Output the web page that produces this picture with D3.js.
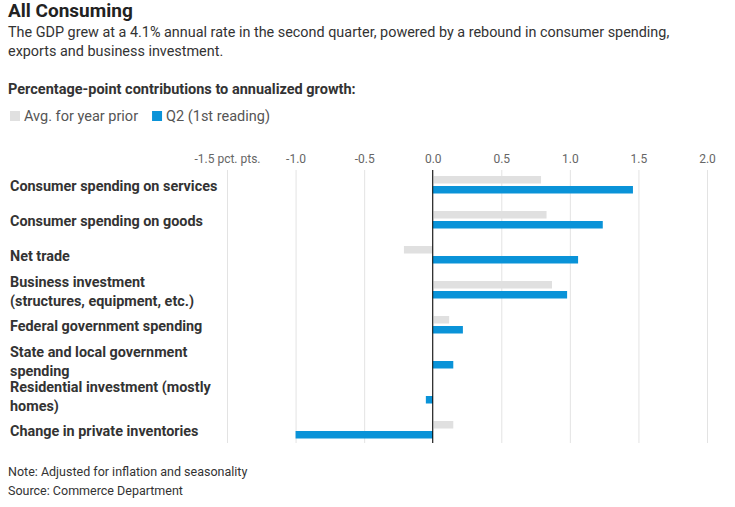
<!DOCTYPE html>
<html><head><meta charset="utf-8">
<script src="https://cdn.jsdelivr.net/npm/d3@7/dist/d3.min.js"></script>
<style>
body{margin:0;background:#fff;}
text{font-family:"Roboto",sans-serif;}
</style></head>
<body><svg id="c" width="735" height="507"></svg>
<script>
const categories = [
  ["Consumer spending on services"],
  ["Consumer spending on goods"],
  ["Net trade"],
  ["Business investment","(structures, equipment, etc.)"],
  ["Federal government spending"],
  ["State and local government","spending"],
  ["Residential investment (mostly","homes)"],
  ["Change in private inventories"]
];
const avgYearPrior = [0.79, 0.83, -0.21, 0.87, 0.12, 0, 0, 0.15];
const q2FirstReading = [1.46, 1.24, 1.06, 0.98, 0.22, 0.15, -0.05, -1.0];
const tickValues = [-1.5, -1.0, -0.5, 0.0, 0.5, 1.0, 1.5, 2.0];
const tickLabels = ["-1.5 pct. pts.", "-1.0", "-0.5", "0.0", "0.5", "1.0", "1.5", "2.0"];
const seriesNames = ["Avg. for year prior", "Q2 (1st reading)"];
const colors = ["#e0e0e0", "#0a93d8"];

const svg = d3.select("#c");
svg.append("text").attr("x",8).attr("y",17).attr("font-size",19).attr("font-weight","bold").attr("fill","#222").text("All Consuming");
svg.append("text").attr("x",8).attr("y",37).attr("font-size",14.4).attr("fill","#333")
  .text("The GDP grew at a 4.1% annual rate in the second quarter, powered by a rebound in consumer spending,");
svg.append("text").attr("x",8).attr("y",56).attr("font-size",14.4).attr("fill","#333")
  .text("exports and business investment.");
svg.append("text").attr("x",8).attr("y",94).attr("font-size",14.5).attr("font-weight","bold").attr("fill","#333")
  .text("Percentage-point contributions to annualized growth:");

// legend
const lg = svg.append("g");
let lx = 10;
seriesNames.forEach((n,i)=>{
  lg.append("rect").attr("x",lx).attr("y",111).attr("width",10).attr("height",10).attr("fill",colors[i]);
  const t = lg.append("text").attr("x",lx+14).attr("y",121).attr("font-size",14.5).attr("fill","#555").text(n);
  lx += 14 + t.node().getComputedTextLength() + 14;
});

const x = d3.scaleLinear().domain([-1.5, 2.0]).range([227, 707]);
const y = d3.scaleBand().domain(d3.range(categories.length)).range([176, 456]).paddingInner(0).paddingOuter(0);
const gridTop = 170, gridBottom = 443;

// grid
const axis = d3.axisTop(x).tickValues(tickValues).tickSize(-(gridBottom-gridTop)).tickFormat((d,i)=>tickLabels[i]);
const ag = svg.append("g").attr("transform",`translate(0,${gridTop})`).call(axis);
ag.select(".domain").remove();
ag.selectAll(".tick line").attr("stroke","#e3e3e3");
ag.selectAll(".tick text").attr("font-size",12).attr("fill","#666").attr("y",-7);

// bars
const barH = 7.5;
const bars = svg.append("g");
bars.selectAll("rect.avg").data(avgYearPrior).join("rect").attr("class","avg")
  .attr("x",d=>x(Math.min(0,d))).attr("width",d=>Math.abs(x(d)-x(0)))
  .attr("y",(d,i)=>y(i)).attr("height",barH).attr("fill",colors[0]);
bars.selectAll("rect.q2").data(q2FirstReading).join("rect").attr("class","q2")
  .attr("x",d=>x(Math.min(0,d))).attr("width",d=>Math.abs(x(d)-x(0)))
  .attr("y",(d,i)=>y(i)+10).attr("height",barH).attr("fill",colors[1]);

// zero line
svg.append("line").attr("x1",x(0)).attr("x2",x(0)).attr("y1",gridTop).attr("y2",gridBottom).attr("stroke","#000").attr("stroke-width",1);

// labels
const lab = svg.append("g");
categories.forEach((lines,i)=>{
  const cy = y(i) + 10;
  const lh = 19;
  const t = lab.append("text").attr("font-size",14.4).attr("font-weight","bold").attr("fill","#333");
  lines.forEach((l,j)=>{
    t.append("tspan").attr("x",10).attr("y", cy + (j-(lines.length-1)/2)*lh + 5).text(l);
  });
});

svg.append("text").attr("x",8).attr("y",476).attr("font-size",12.5).attr("fill","#333").text("Note: Adjusted for inflation and seasonality");
svg.append("text").attr("x",8).attr("y",495).attr("font-size",12.5).attr("fill","#333").text("Source: Commerce Department");
</script></body></html>
